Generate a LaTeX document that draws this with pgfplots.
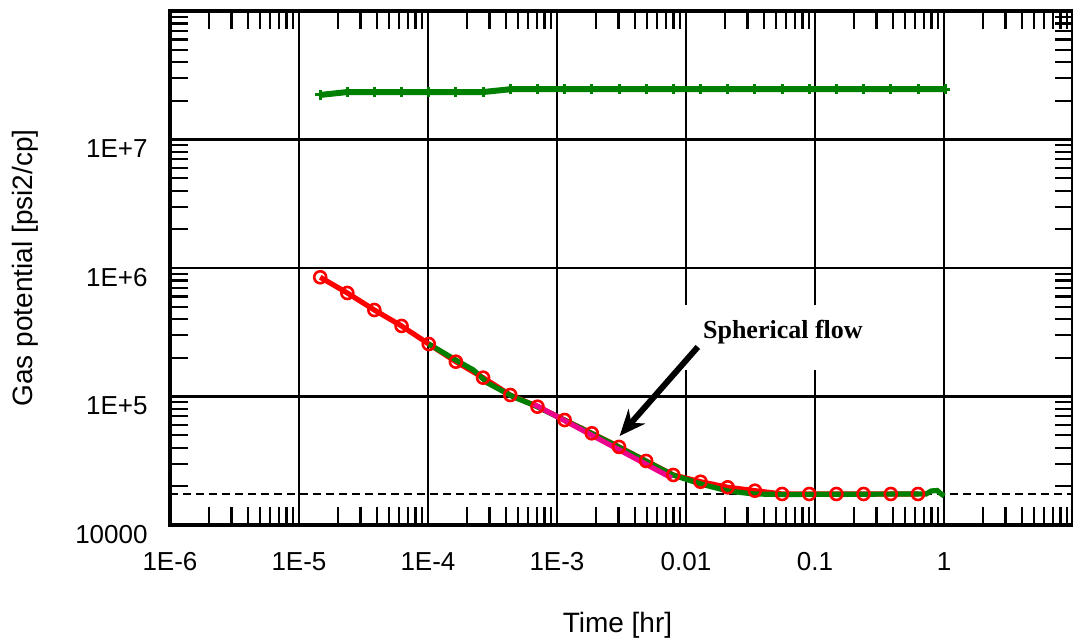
\documentclass[border=0pt]{standalone}
\usepackage{pgfplots}
\pgfplotsset{compat=1.18}
\usepackage{fontspec}
\setmainfont{Liberation Sans}
\newfontfamily\seriffont{Liberation Serif}
\usetikzlibrary{arrows.meta}
\definecolor{dgreen}{HTML}{008000}
\begin{document}
\begin{tikzpicture}
\begin{axis}[
  at={(0,0)}, anchor=south west,
  scale only axis, width=451.5pt, height=257pt,
  xmode=log, ymode=log,
  xmin=1e-6, xmax=10, ymin=1e4, ymax=1e8,
  xtick={1e-6,1e-5,1e-4,1e-3,1e-2,1e-1,1,10},
  xticklabels={1E-6,1E-5,1E-4,1E-3,0.01,0.1,1,},
  ytick={1e4,1e5,1e6,1e7,1e8},
  yticklabels={10000,1E+5,1E+6,1E+7,},
  minor xtick={2e-6,3e-6,4e-6,5e-6,6e-6,7e-6,8e-6,9e-6,
    2e-5,3e-5,4e-5,5e-5,6e-5,7e-5,8e-5,9e-5,
    2e-4,3e-4,4e-4,5e-4,6e-4,7e-4,8e-4,9e-4,
    2e-3,3e-3,4e-3,5e-3,6e-3,7e-3,8e-3,9e-3,
    2e-2,3e-2,4e-2,5e-2,6e-2,7e-2,8e-2,9e-2,
    0.2,0.3,0.4,0.5,0.6,0.7,0.8,0.9,
    2,3,4,5,6,7,8,9},
  minor ytick={2e4,3e4,4e4,5e4,6e4,7e4,8e4,9e4,
    2e5,3e5,4e5,5e5,6e5,7e5,8e5,9e5,
    2e6,3e6,4e6,5e6,6e6,7e6,8e6,9e6,
    2e7,3e7,4e7,5e7,6e7,7e7,8e7,9e7},
  tick align=inside, tick pos=both,
  major tick length=9pt, minor tick length=9pt,
  every tick/.style={black, line width=1.1pt},
  every minor tick/.style={black, line width=1.1pt},
  xmajorgrids, ymajorgrids,
  major grid style={black, line width=1.35pt},
  axis line style={black, line width=2pt},
  tick label style={font=\fontsize{13}{15}\selectfont},
  xticklabel style={anchor=center, yshift=-18.5pt},
  yticklabel style={anchor=north east, inner sep=0pt, xshift=-11pt},
  xlabel={Time [hr]}, ylabel={Gas potential [psi2/cp]},
  every axis x label/.style={at={(axis description cs:0.5,0)}, anchor=center, yshift=-50pt, xshift=-2pt, font=\fontsize{14}{16}\selectfont},
  every axis y label/.style={at={(axis description cs:0,0.5)}, anchor=center, xshift=-72.5pt, rotate=90, font=\fontsize{14}{16}\selectfont},
]
% dashed reference line
\addplot[black, line width=1pt, dash pattern=on 4pt off 2.5pt] coordinates {(1e-6,1.73e4) (10,1.73e4)};
% red pressure data
\addplot[red, line width=2.6pt, mark=o, mark size=3pt, mark options={line width=1.3pt, solid}] coordinates {
(1.46e-5,8.47e5) (2.37e-5,6.39e5) (3.84e-5,4.71e5) (6.24e-5,3.54e5) (1.014e-4,2.56e5)
(1.645e-4,1.866e5) (2.673e-4,1.401e5) (4.345e-4,1.027e5) (7.06e-4,8.33e4) (1.146e-3,6.56e4)
(1.862e-3,5.17e4) (3.027e-3,4.05e4) (4.91e-3,3.15e4) (7.98e-3,2.45e4) (1.297e-2,2.17e4)
(2.104e-2,1.965e4) (3.42e-2,1.849e4) (5.56e-2,1.743e4) (9.03e-2,1.743e4) (0.1466,1.743e4)
(0.238,1.743e4) (0.387,1.743e4) (0.629,1.743e4)};
% green derivative
\addplot[dgreen, line width=2.6pt] coordinates {
(1.014e-4,2.56e5) (1.692e-4,1.889e5) (2.251e-4,1.608e5) (2.891e-4,1.274e5) (4.603e-4,9.91e4)
(6.58e-4,8.59e4) (1.824e-3,5.2e4) (3.008e-3,4.045e4) (4.873e-3,3.148e4) (7.9e-3,2.449e4)
(1.303e-2,2.085e4) (2.111e-2,1.839e4) (3.36e-2,1.743e4) (5.45e-2,1.728e4) (0.7275,1.743e4)
(0.7956,1.839e4) (0.8856,1.856e4) (0.9512,1.743e4) (1.004,1.682e4)};
% magenta spherical flow line
\addplot[magenta, line width=2.6pt] coordinates {(6.58e-4,8.74e4) (7.76e-3,2.32e4)};
% top green line with plus marks
\addplot[dgreen, line width=3pt, mark=+, mark size=2.4pt, mark options={line width=1.5pt}] coordinates {
(1.46e-5,2.22e7) (2.37e-5,2.34e7) (3.84e-5,2.34e7) (6.24e-5,2.34e7) (1.014e-4,2.34e7)
(1.645e-4,2.34e7) (2.673e-4,2.34e7) (4.345e-4,2.46e7) (7.06e-4,2.46e7) (1.146e-3,2.46e7)
(1.862e-3,2.46e7) (3.027e-3,2.46e7) (4.91e-3,2.46e7) (7.98e-3,2.46e7) (1.297e-2,2.46e7)
(2.104e-2,2.46e7) (3.42e-2,2.46e7) (5.56e-2,2.46e7) (9.03e-2,2.46e7) (0.1466,2.46e7)
(0.238,2.46e7) (0.387,2.46e7) (0.629,2.46e7) (1.02,2.46e7)};
% annotation
\fill[white] (axis cs:8.33e-3,1.608e5) rectangle (axis cs:0.3254,5.15e5);
\node[font=\seriffont\bfseries\fontsize{13}{15}\selectfont, inner sep=0pt] at (axis cs:0.0564,3.18e5) {Spherical flow};
\draw[line width=3pt, -{Stealth[length=13pt, width=11pt]}] (axis cs:0.01236,2.43e5) -- (axis cs:3.06e-3,4.93e4);
\end{axis}
\pgfresetboundingbox
\path[use as bounding box] (-85pt,-58pt) rectangle (451.5pt,262.5pt);
\end{tikzpicture}
\end{document}
